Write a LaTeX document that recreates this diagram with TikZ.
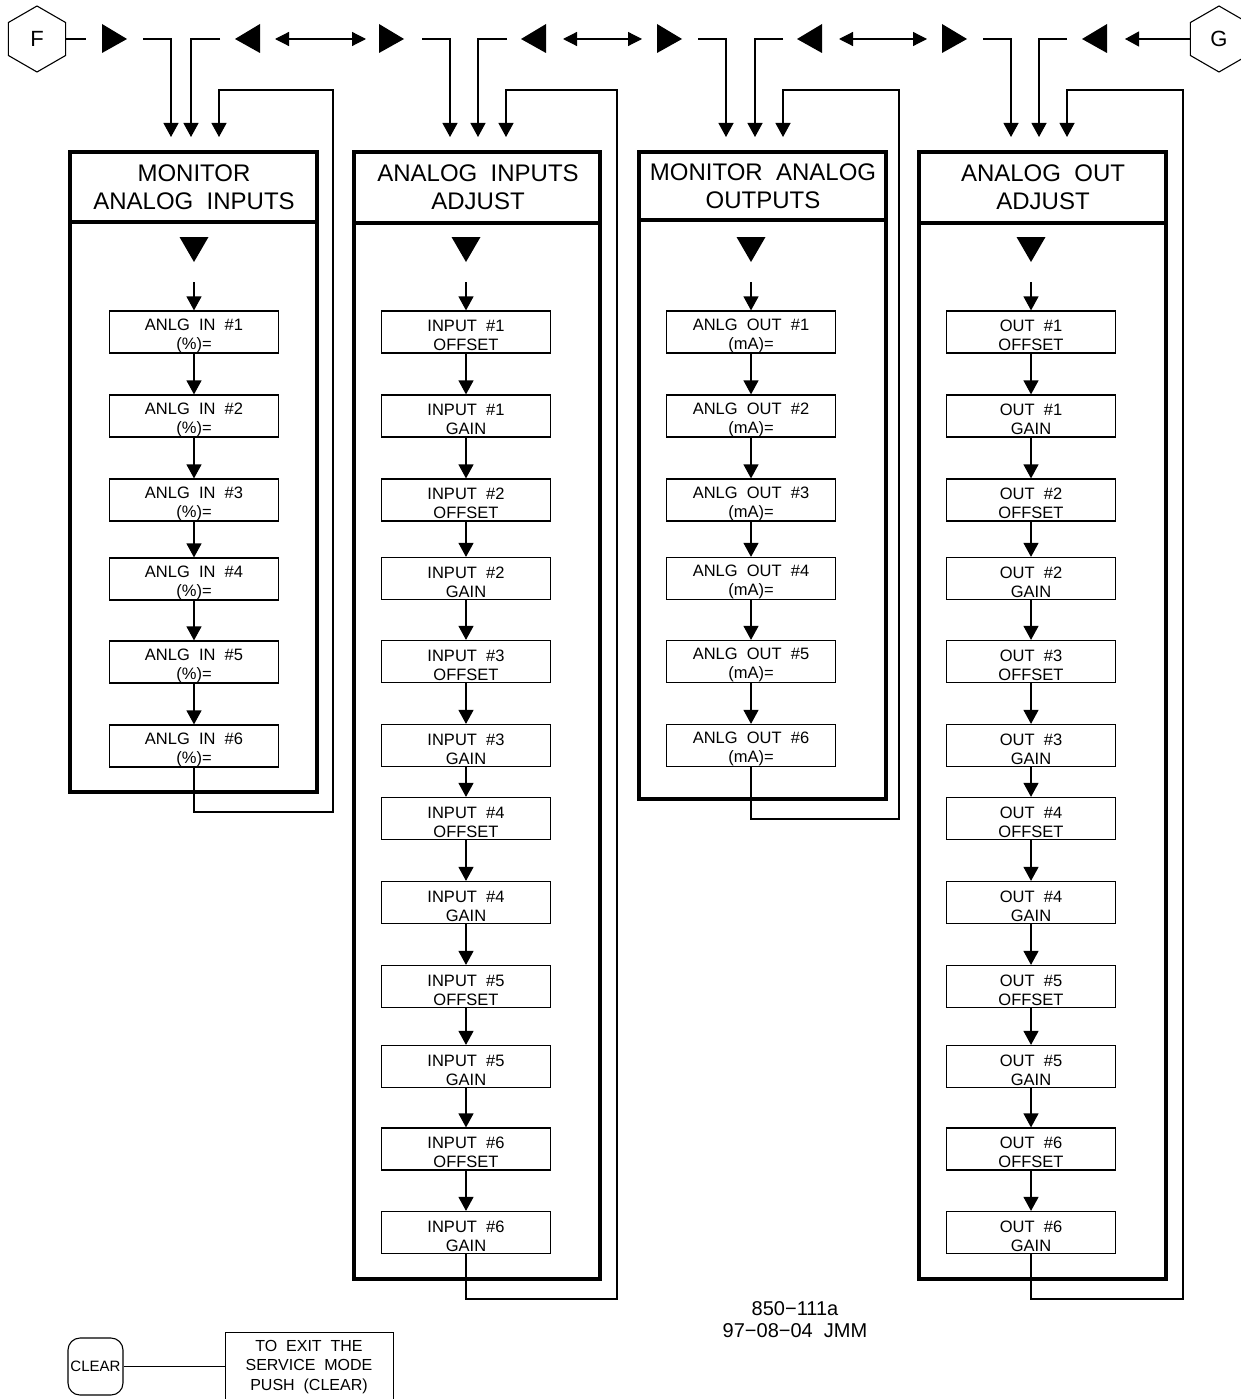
\documentclass[tikz,border=0pt]{standalone}
\usepackage{fontspec}
\setmainfont{Liberation Sans}
\usetikzlibrary{arrows.meta,shapes.geometric}
\begin{document}
\begin{tikzpicture}[x=1pt,y=-1pt,
  thinline/.style={line width=1.2pt},
  arr/.style={thinline,-{Triangle[length=14pt,width=15pt]}},
  darr/.style={thinline,{Triangle[length=14pt,width=14pt]}-{Triangle[length=14pt,width=14pt]}},
  frame/.style={line width=3.2pt},
  item/.style={draw,line width=1.2pt,minimum width=169pt,minimum height=42pt,inner sep=0pt,
    align=center,font=\fontsize{16.5}{19}\selectfont,text height=38pt},
  head/.style={align=center,font=\fontsize{24}{28}\selectfont},
  hexa/.style={draw,line width=1.1pt,regular polygon,regular polygon sides=6,shape border rotate=30,
    minimum size=66pt,inner sep=0pt,outer sep=0pt,font=\fontsize{22}{24}\selectfont},
  note/.style={align=center,font=\fontsize{16}{19.5}\selectfont}
]
\useasboundingbox (0,0) rectangle (1240,1399);

% ---------- top row ----------
\node[hexa] (F) at (37,39) {F};
\node[hexa] (G) at (1219,39) {G};
\coordinate (fend) at (86,39);
\draw[thinline] (F.east) -- (fend);
\coordinate (gend) at (1125,39);
\draw[arr] (G.west) -- (gend);

% big direction triangles
\foreach \a in {102,379,657,942}{\fill (\a,24) -- (\a+25,39) -- (\a,53) -- cycle;}
\foreach \a in {235,521,797,1082}{\fill (\a+25,24) -- (\a,39) -- (\a+25,53) -- cycle;}

% double arrows
\coordinate (d1a) at (275,39); \coordinate (d1b) at (366,39);
\coordinate (d2a) at (563,39); \coordinate (d2b) at (642,39);
\coordinate (d3a) at (839,39); \coordinate (d3b) at (927,39);
\draw[darr] (d1a) -- (d1b);
\draw[darr] (d2a) -- (d2b);
\draw[darr] (d3a) -- (d3b);

% ---------- frames ----------
\draw[frame] (70,152) rectangle (317,792);   \draw[frame] (70,222) -- (317,222);
\draw[frame] (354,152) rectangle (600,1279); \draw[frame] (354,223) -- (600,223);
\draw[frame] (639,152) rectangle (886,799);  \draw[frame] (639,220) -- (886,220);
\draw[frame] (919,152) rectangle (1166,1279);\draw[frame] (919,223) -- (1166,223);

\node[head] (h1) at (194,187) {MONITOR\\ANALOG\ \ INPUTS};
\node[head] (h2) at (478,187) {ANALOG\ \ INPUTS\\ADJUST};
\node[head] (h3) at (763,186) {MONITOR\ \ ANALOG\\OUTPUTS};
\node[head] (h4) at (1043,187) {ANALOG\ \ OUT\\ADJUST};

% big down triangles
\foreach \c in {194,466,751,1031}{\fill (\c-14.5,237) -- (\c+14.5,237) -- (\c,262) -- cycle;}

% ---------- column 1 ----------
\foreach \i/\y in {1/332,2/416,3/500,4/579,5/662,6/746}{
  \node[item] (a\i) at (194,\y) {ANLG\ \ IN\ \ \#\i\\(\%)=};}
\coordinate (a0) at (194,282);
\draw[arr] (a0) -- (a1.north);
\foreach \i [evaluate=\i as \j using int(\i+1)] in {1,...,5}{\draw[arr] (a\i.south) -- (a\j.north);}

% ---------- column 2 ----------
\foreach \k/\y/\t in {1/332/INPUT\ \ \#1\\OFFSET,2/416/INPUT\ \ \#1\\GAIN,3/500/INPUT\ \ \#2\\OFFSET,
  4/578.5/INPUT\ \ \#2\\GAIN,5/661.5/INPUT\ \ \#3\\OFFSET,6/745.5/INPUT\ \ \#3\\GAIN,
  7/818.5/INPUT\ \ \#4\\OFFSET,8/902.5/INPUT\ \ \#4\\GAIN,9/986.5/INPUT\ \ \#5\\OFFSET,
  10/1066.5/INPUT\ \ \#5\\GAIN,11/1149/INPUT\ \ \#6\\OFFSET,12/1232.5/INPUT\ \ \#6\\GAIN}{
  \node[item] (b\k) at (466,\y) {\t};}
\coordinate (b0) at (466,282);
\draw[arr] (b0) -- (b1.north);
\foreach \i [evaluate=\i as \j using int(\i+1)] in {1,...,11}{\draw[arr] (b\i.south) -- (b\j.north);}

% ---------- column 3 ----------
\foreach \i/\y in {1/332,2/416,3/500,4/578.5,5/661.5,6/745.5}{
  \node[item] (c\i) at (751,\y) {ANLG\ \ OUT\ \ \#\i\\(mA)=};}
\coordinate (c0) at (751,282);
\draw[arr] (c0) -- (c1.north);
\foreach \i [evaluate=\i as \j using int(\i+1)] in {1,...,5}{\draw[arr] (c\i.south) -- (c\j.north);}

% ---------- column 4 ----------
\foreach \k/\y/\t in {1/332/OUT\ \ \#1\\OFFSET,2/416/OUT\ \ \#1\\GAIN,3/500/OUT\ \ \#2\\OFFSET,
  4/578.5/OUT\ \ \#2\\GAIN,5/661.5/OUT\ \ \#3\\OFFSET,6/745.5/OUT\ \ \#3\\GAIN,
  7/818.5/OUT\ \ \#4\\OFFSET,8/902.5/OUT\ \ \#4\\GAIN,9/986.5/OUT\ \ \#5\\OFFSET,
  10/1066.5/OUT\ \ \#5\\GAIN,11/1149/OUT\ \ \#6\\OFFSET,12/1232.5/OUT\ \ \#6\\GAIN}{
  \node[item] (e\k) at (1031,\y) {\t};}
\coordinate (e0) at (1031,282);
\draw[arr] (e0) -- (e1.north);
\foreach \i [evaluate=\i as \j using int(\i+1)] in {1,...,11}{\draw[arr] (e\i.south) -- (e\j.north);}

% ---------- entry connectors ----------
\coordinate (p1) at (143,39);  \coordinate (q1) at (171,137);
\coordinate (p2) at (220,39);  \coordinate (q2) at (191,137);
\coordinate (q3) at (219,137);
\draw[arr] (p1) -| (q1);
\draw[arr] (p2) -| (q2);
\draw[arr] (a6.south) -- (194,812) -- (333,812) -- (333,90) -| (q3);

\coordinate (p4) at (422,39);  \coordinate (q4) at (450,137);
\coordinate (p5) at (507,39);  \coordinate (q5) at (478,137);
\coordinate (q6) at (506,137);
\draw[arr] (p4) -| (q4);
\draw[arr] (p5) -| (q5);
\draw[arr] (b12.south) -- (466,1299) -- (617,1299) -- (617,90) -| (q6);

\coordinate (p7) at (698,39);  \coordinate (q7) at (726,137);
\coordinate (p8) at (783,39);  \coordinate (q8) at (755,137);
\coordinate (q9) at (783,137);
\draw[arr] (p7) -| (q7);
\draw[arr] (p8) -| (q8);
\draw[arr] (c6.south) -- (751,819) -- (899,819) -- (899,90) -| (q9);

\coordinate (p10) at (983,39);  \coordinate (q10) at (1011,137);
\coordinate (p11) at (1067,39); \coordinate (q11) at (1039,137);
\coordinate (q12) at (1067,137);
\draw[arr] (p10) -| (q10);
\draw[arr] (p11) -| (q11);
\draw[arr] (e12.south) -- (1031,1299) -- (1183,1299) -- (1183,90) -| (q12);

% ---------- footer ----------
\node[draw,line width=1.1pt,rounded corners=12pt,minimum width=55pt,minimum height=57pt,inner sep=0pt,
  font=\fontsize{15}{18}\selectfont] (clr) at (95.5,1366.5) {CLEAR};
\node[draw,line width=1.1pt,minimum width=168pt,minimum height=90pt,anchor=north west,inner sep=0pt] (exitbox) at (225,1332) {};
\node[note] (exittxt) at (309,1367) {TO\ \ EXIT\ \ THE\\SERVICE\ \ MODE\\PUSH\ \ (CLEAR)};
\draw[thinline] (clr.east) -- (clr.east -| exitbox.west);

\node[note,font=\fontsize{20}{22}\selectfont] (ref) at (795,1320) {850−111a\\97−08−04\ \ JMM};
\end{tikzpicture}
\end{document}
